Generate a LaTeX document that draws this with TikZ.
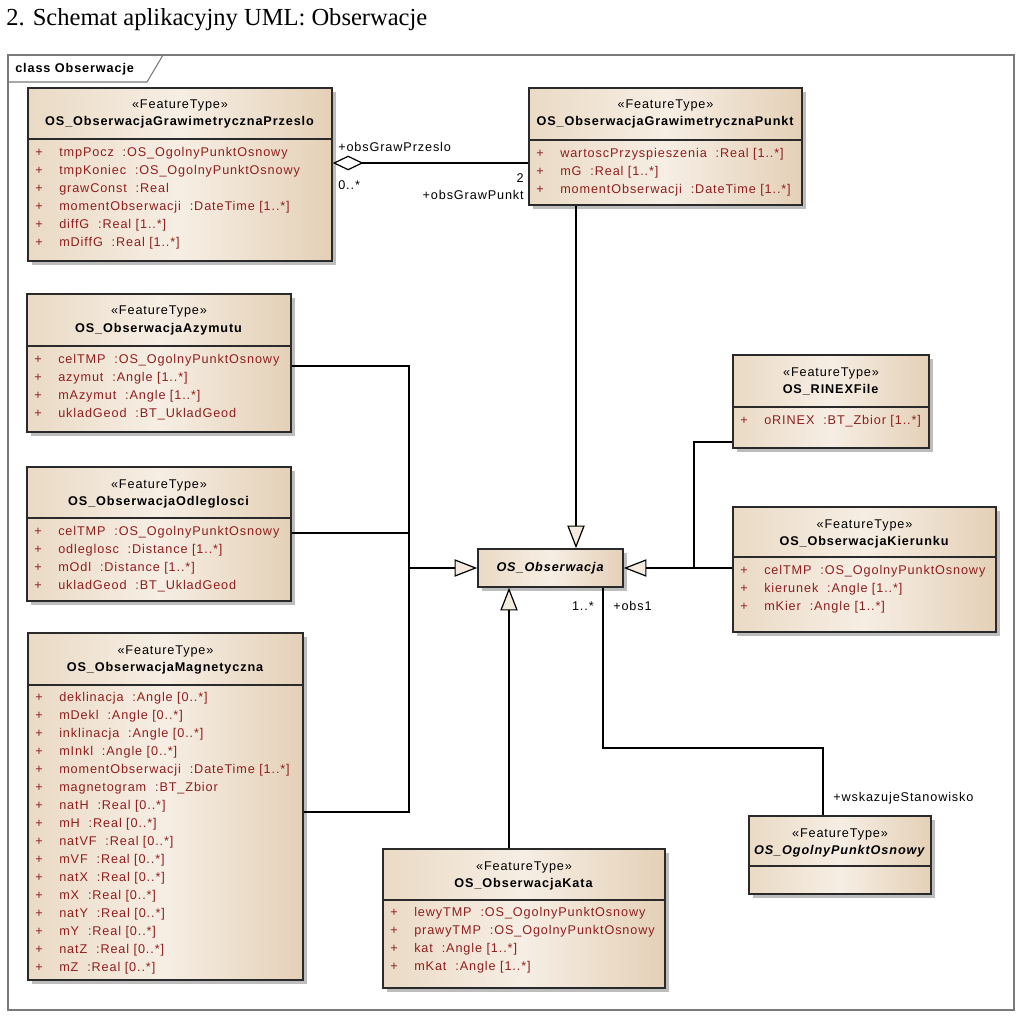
\documentclass[tikz,border=0pt]{standalone}
\usepackage{fontspec}
\setmainfont[LetterSpace=7]{Liberation Sans}
\newfontfamily\titlefont{Liberation Serif}
\usetikzlibrary{arrows.meta,shadows,fit}

\definecolor{attrred}{HTML}{8E1F1F}
\definecolor{boxborder}{HTML}{2A2A2A}
\definecolor{shadowgray}{HTML}{BDBDBD}
\definecolor{fillL}{HTML}{EADAC5}
\definecolor{fillM}{HTML}{F6EEE4}
\definecolor{fillR}{HTML}{E4D0B7}
\definecolor{framegray}{HTML}{7A7A7A}
\definecolor{trifill}{HTML}{F4EBDF}

\tikzset{
  classbox/.style={draw=boxborder, line width=1.2pt, inner sep=0pt,
    left color=fillL, right color=fillR, middle color=fillM,
    drop shadow={shadow xshift=3pt, shadow yshift=-3pt, fill=shadowgray, opacity=1}},
  boxline/.style={draw=boxborder, line width=1.1pt},
  hdrtext/.style={inner sep=0pt, text=black},
  attrtext/.style={inner sep=0pt, text=attrred},
  lbltext/.style={inner sep=0pt, text=black},
  conn/.style={draw=black, line width=0.9pt},
  gen/.style={conn, -{Triangle[length=17pt,width=13pt,fill=trifill]}},
  framestyle/.style={draw=framegray, line width=0.8pt}
}

\newcommand\umlcolon{\hspace{0.7em}:}
\newcommand\umlbox[7]{%
  \node[classbox, fit={(#2,#3) (#4,#5)}] (#1) {};
  \draw[boxline] (#1.west |- 0,#6) -- (#1.east |- 0,#6);
  \node[hdrtext, anchor=base] (#1-st) at ({(#2+#4)/2},#3+21) {«FeatureType»};
  \node[hdrtext, anchor=base] (#1-nm) at ({(#2+#4)/2},#3+38) {#7};
}
\newcommand\umlattrs[4]{%
  \foreach \t [count=\i] in {#4} {
    \node[attrtext, anchor=base west] (#1-p\i) at (#2+7, {#3+17.5+(\i-1)*18}) {+};
    \node[attrtext, anchor=base west] (#1-a\i) at (#2+31, {#3+17.5+(\i-1)*18}) {\t};
  }
}

\begin{document}
\begin{tikzpicture}[x=0.75pt, y=-0.75pt, font=\fontsize{9.5}{11}\selectfont]
\fill[white] (0,0) rectangle (1024,1016);
\useasboundingbox (0,0) rectangle (1024,1016);

% title
\node[lbltext, anchor=base west, font=\titlefont\fontsize{18.4}{21}\selectfont] (title) at (6,26) {2. Schemat aplikacyjny UML: Obserwacje};

% frame
\draw[framestyle] (8,55) rectangle (1014,1010);
\draw[framestyle] (8,82) -- (147,82) -- (163,55);
\node[lbltext, anchor=base west] (frametitle) at (15,73) {\textbf{class Obserwacje}};

% classes
\umlbox{przeslo}{28}{88}{332}{261}{139}{\textbf{OS\_ObserwacjaGrawimetrycznaPrzeslo}}
\umlattrs{przeslo}{28}{139}{tmpPocz\umlcolon OS\_OgolnyPunktOsnowy, tmpKoniec\umlcolon OS\_OgolnyPunktOsnowy, grawConst\umlcolon Real, momentObserwacji\umlcolon DateTime [1..*], diffG\umlcolon Real [1..*], mDiffG\umlcolon Real [1..*]}

\umlbox{punkt}{529}{88}{802}{205}{140}{\textbf{OS\_ObserwacjaGrawimetrycznaPunkt}}
\umlattrs{punkt}{529}{140}{wartoscPrzyspieszenia\umlcolon Real [1..*], mG\umlcolon Real [1..*], momentObserwacji\umlcolon DateTime [1..*]}

\umlbox{azym}{27}{294}{291}{432}{346}{\textbf{OS\_ObserwacjaAzymutu}}
\umlattrs{azym}{27}{346}{celTMP\umlcolon OS\_OgolnyPunktOsnowy, azymut\umlcolon Angle [1..*], mAzymut\umlcolon Angle [1..*], ukladGeod\umlcolon BT\_UkladGeod}

\umlbox{odl}{27}{467}{291}{601}{518}{\textbf{OS\_ObserwacjaOdleglosci}}
\umlattrs{odl}{27}{518}{celTMP\umlcolon OS\_OgolnyPunktOsnowy, odleglosc\umlcolon Distance [1..*], mOdl\umlcolon Distance [1..*], ukladGeod\umlcolon BT\_UkladGeod}

\umlbox{magn}{28}{633}{303}{980}{685}{\textbf{OS\_ObserwacjaMagnetyczna}}
\umlattrs{magn}{28}{684}{deklinacja\umlcolon Angle [0..*], mDekl\umlcolon Angle [0..*], inklinacja\umlcolon Angle [0..*], mInkl\umlcolon Angle [0..*], momentObserwacji\umlcolon DateTime [1..*], magnetogram\umlcolon BT\_Zbior, natH\umlcolon Real [0..*], mH\umlcolon Real [0..*], natVF\umlcolon Real [0..*], mVF\umlcolon Real [0..*], natX\umlcolon Real [0..*], mX\umlcolon Real [0..*], natY\umlcolon Real [0..*], mY\umlcolon Real [0..*], natZ\umlcolon Real [0..*], mZ\umlcolon Real [0..*]}

\umlbox{rinex}{733}{355}{929}{448}{407}{\textbf{OS\_RINEXFile}}
\umlattrs{rinex}{733}{407}{oRINEX\umlcolon BT\_Zbior [1..*]}

\umlbox{kier}{733}{507}{996}{632}{557}{\textbf{OS\_ObserwacjaKierunku}}
\umlattrs{kier}{733}{557}{celTMP\umlcolon OS\_OgolnyPunktOsnowy, kierunek\umlcolon Angle [1..*], mKier\umlcolon Angle [1..*]}

\umlbox{ogol}{749}{816}{931}{894}{866}{\textbf{\textit{OS\_OgolnyPunktOsnowy}}}

\umlbox{kata}{383}{849}{665}{988}{900}{\textbf{OS\_ObserwacjaKata}}
\umlattrs{kata}{383}{899}{lewyTMP\umlcolon OS\_OgolnyPunktOsnowy, prawyTMP\umlcolon OS\_OgolnyPunktOsnowy, kat\umlcolon Angle [1..*], mKat\umlcolon Angle [1..*]}

% abstract base class
\node[classbox, fit={(478,549) (623,587)}] (obs) {};
\node[hdrtext] (obs-nm) at (obs.center) {\textbf{\textit{OS\_Obserwacja}}};

% aggregation
\draw[conn, {Diamond[length=23pt,width=11pt,fill=white]}-] (przeslo.east |- 0,163) -- (punkt.west |- 0,163);
\node[lbltext, anchor=west] (l1) at (338,147) {+obsGrawPrzeslo};
\node[lbltext, anchor=west] (l2) at (338,185) {0..*};
\node[lbltext, anchor=east] (l3) at (524,178) {2};
\node[lbltext, anchor=east] (l4) at (524,195) {+obsGrawPunkt};

% generalizations
\draw[gen] (punkt.south -| 576,0) -- (obs.north -| 576,0);
\draw[conn] (azym.east |- 0,366) -| (409,812) -- (magn.east |- 0,812);
\draw[conn] (odl.east |- 0,533) -- (409,533);
\draw[gen] (409,568) -- (obs.west);
\draw[conn] (rinex.west |- 0,442) -| (694,568);
\draw[gen] (kier.west |- 0,568) -- (obs.east);
\draw[gen] (kata.north -| 509,0) -- (obs.south -| 509,0);

% association
\draw[conn] (obs.south -| 603,0) |- (823,748) -- (ogol.north -| 823,0);
\node[lbltext, anchor=east] (l5) at (594,606) {1..*};
\node[lbltext, anchor=west] (l6) at (613,606) {+obs1};
\node[lbltext, anchor=west] (l7) at (833,798) {+wskazujeStanowisko};
\end{tikzpicture}
\end{document}
